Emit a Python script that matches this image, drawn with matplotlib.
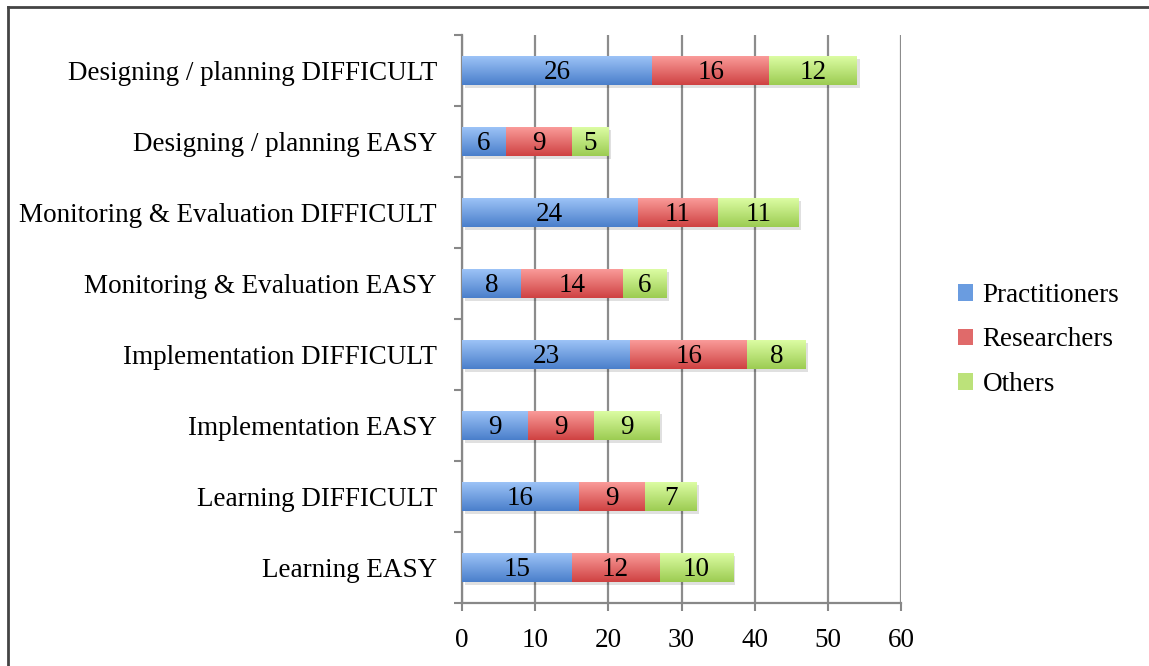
import matplotlib
matplotlib.use("Agg")
import matplotlib.pyplot as plt
import matplotlib.transforms as mtransforms
from matplotlib.lines import Line2D
from matplotlib.patches import Patch
import numpy as np

categories = [
    "Designing / planning DIFFICULT",
    "Designing / planning EASY",
    "Monitoring & Evaluation DIFFICULT",
    "Monitoring & Evaluation EASY",
    "Implementation DIFFICULT",
    "Implementation EASY",
    "Learning DIFFICULT",
    "Learning EASY",
]
practitioners = [26, 6, 24, 8, 23, 9, 16, 15]
researchers = [16, 9, 11, 14, 16, 9, 9, 12]
others = [12, 5, 11, 6, 8, 9, 7, 10]
series_names = ["Practitioners", "Researchers", "Others"]
x_ticks = [0, 10, 20, 30, 40, 50, 60]

grads = {
    "Practitioners": ("#9fc5f8", "#4a7fcb"),
    "Researchers": ("#fb9e9c", "#cf4242"),
    "Others": ("#defea6", "#9ccc52"),
}
legend_colors = {"Practitioners": "#6a9ce0", "Researchers": "#e06a6a", "Others": "#bce27a"}

plt.rcParams['font.family'] = ['Liberation Serif', 'DejaVu Serif']
fs = 19.5

fig = plt.figure(figsize=(11.49, 6.66), dpi=100)
ax = fig.add_axes([462/1149, 63/666, 439/1149, 568/666])

n = len(categories)
y = np.arange(n)
bh = 0.42
series = [practitioners, researchers, others]

def hex2rgb(h):
    h = h.lstrip('#')
    return np.array([int(h[i:i+2], 16) / 255 for i in (0, 2, 4)])

def grad_img(name):
    top, bot = grads[name]
    c1, c2 = hex2rgb(top), hex2rgb(bot)
    t = np.linspace(0, 1, 64)[:, None]
    return (c1[None, :] * (1 - t) + c2[None, :] * t)[:, None, :]

# shadows
totals = [a + b + c for a, b, c in zip(*series)]
shadow_tr = mtransforms.offset_copy(ax.transData, fig=fig, x=2.5, y=-3, units='dots')
ax.barh(y, totals, height=bh, color='#000000', alpha=0.12, transform=shadow_tr, zorder=2, linewidth=0)

left = np.zeros(n)
for name, vals in zip(series_names, series):
    img = grad_img(name)
    bars = ax.barh(y, vals, left=left, height=bh, color=grads[name][1], linewidth=0, zorder=3)
    for b, v, l, yi in zip(bars, vals, left, y):
        im = ax.imshow(img, extent=[l, l + v, yi + bh/2, yi - bh/2], aspect='auto',
                       zorder=3.5, interpolation='bilinear')
        im.set_clip_path(b)
        ax.text(l + v/2, yi + 0.03, str(v), ha='center', va='center', fontsize=fs, color='black', zorder=5)
    left = left + np.array(vals)

ax.set_xlim(0, 60)
ax.set_ylim(n - 0.5, -0.5)
ax.set_xticks(x_ticks)
ax.set_xticklabels([str(v) for v in x_ticks], fontsize=fs)
ax.set_yticks(y)
ax.set_yticklabels(categories, fontsize=fs)
ax.tick_params(axis='y', which='major', length=0, pad=18)
ax.set_yticks(np.arange(-0.5, n, 1), minor=True)
ax.tick_params(axis='y', which='minor', length=6, width=1.5, color='#888888', direction='out')
ax.tick_params(axis='x', length=6, width=1.5, color='#888888', direction='out', pad=12)
ax.xaxis.grid(True, color='#8c8c8c', linewidth=1.6, zorder=1)
ax.set_axisbelow(True)
for s in ['top', 'right']:
    ax.spines[s].set_visible(False)
for s in ['left', 'bottom']:
    ax.spines[s].set_color('#888888')
    ax.spines[s].set_linewidth(1.6)

lh = [Patch(facecolor=legend_colors[nm], edgecolor='none') for nm in series_names]
leg = fig.legend(lh, series_names, loc='center left', bbox_to_anchor=(934/1149, 1 - 340/666),
                 frameon=False, fontsize=fs, handlelength=0.55, handleheight=0.55,
                 handletextpad=0.35, labelspacing=0.72)

# figure border (top & left)
fig.add_artist(Line2D([7.5/1149, 7.5/1149], [0, 1 - 6.5/666], transform=fig.transFigure,
                      color='#444444', linewidth=2))
fig.add_artist(Line2D([7.5/1149, 1], [1 - 6.5/666, 1 - 6.5/666], transform=fig.transFigure,
                      color='#444444', linewidth=2))

fig.savefig("out.png", dpi=100)
